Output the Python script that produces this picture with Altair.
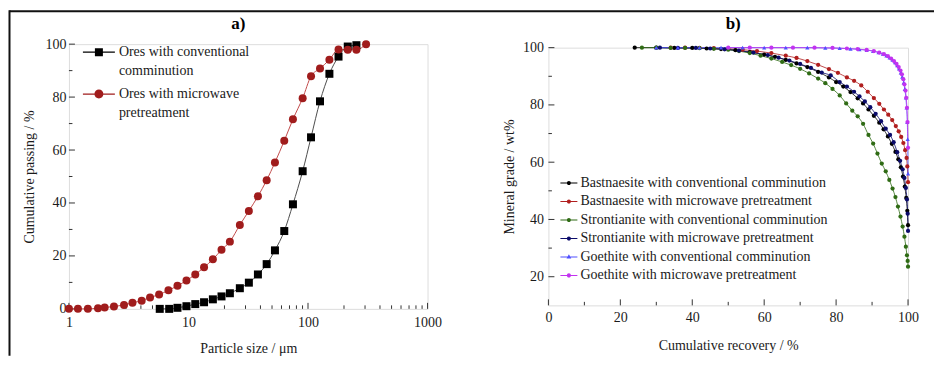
import altair as alt
import pandas as pd

FONT = "Liberation Serif"
FRAME = "#333333"
TXT = "#1a1a1a"

# ---------------- panel a) data ----------------
a_series = ["Ores with conventional|comminution", "Ores with microwave|pretreatment"]
a_point_colors = ["#000000", "#a01c1c"]
a_line_colors = ["#4d4d4d", "#c24b4b"]

size_conv = [5.75, 6.9, 8.09, 9.62, 11.4, 13.5, 16.0, 18.9, 22.2, 26.9, 32.0, 38.1,
             45.1, 52.9, 63.3, 74.8, 90.2, 106, 126, 151, 180, 215, 254]
pass_conv = [0, 0, 0.4, 1.0, 1.8, 2.5, 3.6, 4.7, 5.9, 7.8, 9.9, 13.0,
             16.9, 22.1, 29.4, 39.5, 52.0, 64.8, 78.4, 88.8, 95.3, 99.1, 99.6]
size_mw = [1, 1.19, 1.44, 1.75, 1.99, 2.38, 2.89, 3.40, 4.06, 4.77, 5.68, 6.80,
           8.09, 9.62, 11.4, 13.5, 16.0, 18.9, 22.2, 26.9, 32.0, 38.1, 45.1, 52.9,
           63.3, 74.8, 90.2, 106, 126, 151, 180, 215, 254, 306]
pass_mw = [0, 0, 0, 0.25, 0.5, 0.9, 1.5, 2.3, 3.1, 4.3, 5.4, 7.0,
           8.7, 10.7, 13.0, 15.7, 18.7, 22.3, 25.4, 31.7, 37.0, 42.5, 48.6, 55.3,
           63.5, 71.6, 79.6, 87.9, 90.8, 94.1, 98.0, 97.9, 97.9, 100]

a_x_major = [1, 10, 100, 1000]
a_x_minor = [2, 3, 4, 5, 6, 7, 8, 9, 20, 30, 40, 50, 60, 70, 80, 90,
             200, 300, 400, 500, 600, 700, 800, 900]
a_y_major = [0, 20, 40, 60, 80, 100]
a_y_minor = [10, 30, 50, 70, 90]

# ---------------- panel b) data ----------------
b_series = [
    "Bastnaesite with conventional comminution",
    "Bastnaesite with microwave pretreatment",
    "Strontianite with conventional comminution",
    "Strontianite with microwave pretreatment",
    "Goethite with conventional comminution",
    "Goethite with microwave pretreatment",
]
b_colors = ["#000000", "#b01e1e", "#2f6b14", "#0b0b6a", "#5050ff", "#c233f0"]

bast_conv_x = [24, 30, 35, 40, 44, 48, 52, 56, 60, 63, 66, 69, 72, 75, 78, 80, 82, 84, 86,
               87.5, 89, 90.5, 92, 93.2, 94.4, 95.5, 96.5, 97.3, 98, 98.6, 99.1, 99.5, 99.8, 100]
bast_conv_y = [100, 100, 99.9, 99.9, 99.7, 99.5, 99.1, 98.4, 97.6, 96.8, 95.7, 94.5, 93.2, 91.5,
               89.6, 88.0, 86.4, 84.5, 82.3, 80.5, 78.4, 76.2, 73.8, 71.5, 69.0, 66.4, 63.6,
               61.0, 58.2, 55.0, 51.5, 47.5, 43, 38]
bast_mw_x = [34, 38, 42, 46, 50, 54, 58, 62, 66, 69, 72, 75, 78, 80.5, 83, 85, 87, 88.8, 90.5,
             92, 93.3, 94.5, 95.6, 96.6, 97.4, 98.1, 98.7, 99.2, 99.6, 99.8, 100]
bast_mw_y = [100, 100, 99.9, 99.8, 99.6, 99.3, 98.8, 98.1, 97.2, 96.4, 95.3, 94.0, 92.5, 91.2,
             89.6, 88.4, 86.8, 84.6, 82.4, 80.4, 78.4, 76.6, 74.7, 72.6, 70.8, 68.8, 66.7,
             64.2, 61.5, 58.5, 53]
stro_conv_x = [26, 30, 34, 38, 42, 46, 50, 53, 56, 59, 62, 65, 67.5, 70, 72.5, 75, 77, 79, 81,
               82.8, 84.5, 86, 87.5, 89, 90.3, 91.5, 92.7, 93.8, 94.8, 95.7, 96.5, 97.2, 97.9,
               98.5, 99, 99.4, 99.7, 99.9, 100]
stro_conv_y = [100, 100, 99.9, 99.9, 99.8, 99.6, 99.3, 98.8, 98.1, 97.2, 96.2, 95.0, 93.9, 92.6,
               91.0, 89.2, 87.6, 85.6, 83.3, 80.5, 78.0, 76.0, 73.4, 69.5, 66.5, 63.0, 59.5,
               56.8, 53.8, 50.8, 47.8, 44.5, 41.0, 37.5, 34.0, 30.5, 27.5, 25.5, 23.5]
stro_mw_x = [31, 36, 41, 45, 49, 53, 57, 61, 64, 67, 70, 73, 76, 78.5, 81, 83, 85, 86.5, 88,
             89.5, 91, 92.5, 93.8, 95, 96, 97, 97.8, 98.5, 99, 99.4, 99.7, 99.9, 100]
stro_mw_y = [100, 99.9, 99.9, 99.7, 99.4, 99.0, 98.3, 97.4, 96.5, 95.5, 94.3, 92.9, 91.3, 90.3,
             88.0, 86.4, 84.6, 83.0, 81.2, 79.2, 76.9, 74.3, 71.7, 69.5, 67.0, 63.5, 60.5,
             57.5, 54.5, 51, 47, 42, 36]
goe_conv_x = [30, 36, 42, 48, 54, 60, 66, 72, 77, 81, 84, 86.5, 88.5, 90.3, 91.8, 93, 94, 94.9,
              95.7, 96.4, 97, 97.5, 98, 98.4, 98.8, 99.1, 99.4, 99.6, 99.8, 99.9, 100]
goe_conv_y = [100, 100, 100, 100, 100, 100, 100, 100, 99.9, 99.8, 99.6, 99.4, 99.1, 98.8, 98.3,
              97.8, 97.2, 96.5, 95.7, 94.8, 93.8, 92.7, 91.3, 89.8, 87.8, 85.5, 82.5, 79, 74,
              68, 56]
goe_mw_x = [50, 56, 62, 68, 74, 79, 83, 86, 88.5, 90.5, 92, 93.3, 94.4, 95.3, 96.1, 96.8, 97.4,
            97.9, 98.3, 98.7, 99, 99.3, 99.5, 99.7, 99.85, 100]
goe_mw_y = [100, 100, 100, 100, 100, 99.9, 99.7, 99.5, 99.2, 98.8, 98.3, 97.7, 97.0, 96.2, 95.3,
            94.3, 93.2, 92.0, 90.7, 89.0, 87.2, 85.0, 82.5, 79, 74, 65]

b_x_major = [0, 20, 40, 60, 80, 100]
b_x_minor = [10, 30, 50, 70, 90]
b_y_major = [20, 40, 60, 80, 100]
b_y_minor = [30, 50, 70, 90]

panel_labels = ["a)", "b)"]

# ---------------- tables ----------------
df_a = pd.concat([
    pd.DataFrame({"size": size_conv, "passing": pass_conv, "series": a_series[0]}),
    pd.DataFrame({"size": size_mw, "passing": pass_mw, "series": a_series[1]}),
], ignore_index=True)

b_xs = [bast_conv_x, bast_mw_x, stro_conv_x, stro_mw_x, goe_conv_x, goe_mw_x]
b_ys = [bast_conv_y, bast_mw_y, stro_conv_y, stro_mw_y, goe_conv_y, goe_mw_y]
df_b = pd.concat([
    pd.DataFrame({"recovery": xs, "grade": ys, "series": s})
    for s, xs, ys in zip(b_series, b_xs, b_ys)
], ignore_index=True)

one_row = pd.DataFrame({"k": [0]})

# ---------------- shared styling ----------------
def axis(title, values, fmt, label_pad, title_pad):
    return alt.Axis(title=title, values=values, format=fmt, domain=False, ticks=False,
                    grid=False, labelPadding=label_pad, titlePadding=title_pad,
                    labelFontSize=14, titleFontSize=14, labelFont=FONT, titleFont=FONT,
                    labelColor=TXT, titleColor=TXT, titleFontWeight="normal",
                    labelFlush=False, labelOverlap=False)


def tick_layers(xfield, xscale, xaxis, xmaj, xmin, yfield, yscale, yaxis, ymaj, ymin, H):
    layers = []
    for vals, ln in ((xmaj, 6), (xmin, 3.5)):
        layers.append(alt.Chart(pd.DataFrame({xfield: vals})).mark_rule(
            color=FRAME, strokeWidth=1).encode(
            x=alt.X(f"{xfield}:Q", scale=xscale, axis=xaxis),
            y=alt.value(H), y2=alt.value(H - ln)))
    for vals, ln in ((ymaj, 6), (ymin, 3.5)):
        layers.append(alt.Chart(pd.DataFrame({yfield: vals})).mark_rule(
            color=FRAME, strokeWidth=1).encode(
            y=alt.Y(f"{yfield}:Q", scale=yscale, axis=yaxis),
            x=alt.value(0), x2=alt.value(ln)))
    return layers


def panel_title(label, xpix, ypix):
    return alt.Chart(one_row).mark_text(
        text=label, font=FONT, fontSize=17, fontWeight="bold", color="#000",
        align="center", baseline="middle").encode(x=alt.value(xpix), y=alt.value(ypix))

# ---------------- panel a) ----------------
WA, HA = 359, 265
xs_a = alt.Scale(type="log", domain=[1, 1000], nice=False)
ys_a = alt.Scale(domain=[0, 100], nice=False)
xax_a = axis("Particle size / μm", a_x_major, "d", 7, 12)
yax_a = axis("Cumulative passing / %", a_y_major, "d", 3, 8)
Xa = alt.X("size:Q", scale=xs_a, axis=xax_a)
Ya = alt.Y("passing:Q", scale=ys_a, axis=yax_a)

a_leg_paths = [
    "M-1,-0.035H1V0.035H-1Z M-0.25,-0.25H0.25V0.25H-0.25Z",
    "M-1,-0.035H1V0.035H-1Z M0.28,0A0.28,0.28 0 1,1 -0.28,0A0.28,0.28 0 1,1 0.28,0Z",
]

leg_a_def = alt.Legend(title=None, orient="none", legendX=14, legendY=-8, padding=0,
                       labelFont=FONT, labelFontSize=14, labelColor=TXT, labelLimit=400,
                       labelOffset=4, rowPadding=-3, symbolSize=1024, symbolOpacity=1,
                       symbolStrokeWidth=0, labelExpr="split(datum.label, '|')")

line_a = alt.Chart(df_a).mark_line(interpolate="monotone", strokeWidth=1).encode(
    x=Xa, y=Ya,
    color=alt.Color("series:N", scale=alt.Scale(domain=a_series, range=a_line_colors), legend=None))
pts_a = alt.Chart(df_a).mark_point(filled=True, size=64, opacity=1).encode(
    x=Xa, y=Ya,
    color=alt.Color("series:N", scale=alt.Scale(domain=a_series, range=a_point_colors), legend=None),
    shape=alt.Shape("series:N", scale=alt.Scale(domain=a_series, range=["square", "circle"]), legend=None))
leg_a = alt.Chart(df_a).mark_point(filled=True, size=1024, opacity=0).encode(
    x=Xa, y=Ya,
    color=alt.Color("series:N", scale=alt.Scale(domain=a_series, range=a_point_colors), legend=leg_a_def),
    shape=alt.Shape("series:N", scale=alt.Scale(domain=a_series, range=a_leg_paths), legend=leg_a_def))

# figure border (decoration of the original figure: top and left edge)
border_top = alt.Chart(one_row).mark_rule(color="#111111", strokeWidth=2).encode(
    x=alt.value(-59.5), x2=alt.value(866), y=alt.value(-33))
border_left = alt.Chart(one_row).mark_rule(color="#111111", strokeWidth=2).encode(
    x=alt.value(-59.5), y=alt.value(-34), y2=alt.value(312))

panel_a = alt.layer(
    *tick_layers("size", xs_a, xax_a, a_x_major, a_x_minor, "passing", ys_a, yax_a, a_y_major, a_y_minor, HA),
    line_a, pts_a, leg_a, border_top, border_left,
    panel_title(panel_labels[0], WA / 2 - 10, -20.5)
).resolve_scale(color="independent", shape="independent").properties(width=WA, height=HA)

# ---------------- panel b) ----------------
WB, HB = 360, 258
xs_b = alt.Scale(domain=[0, 100], nice=False)
ys_b = alt.Scale(domain=[10, 100], nice=False)
xax_b = axis("Cumulative recovery / %", b_x_major, "d", 5, 14)
yax_b = axis("Mineral grade / wt%", b_y_major, "d", 5, 6)
Xb = alt.X("recovery:Q", scale=xs_b, axis=xax_b)
Yb = alt.Y("grade:Q", scale=ys_b, axis=yax_b)

dot = "M-1,-0.06H1V0.06H-1Z M0.24,0A0.24,0.24 0 1,1 -0.24,0A0.24,0.24 0 1,1 0.24,0Z"
tri = "M-1,-0.06H1V0.06H-1Z M0,-0.3L0.28,0.2L-0.28,0.2Z"
b_leg_paths = [dot, dot, dot, dot, tri, dot]
b_shapes = ["circle", "circle", "circle", "circle", "triangle-up", "circle"]

leg_b_def = alt.Legend(title=None, orient="none", legendX=12, legendY=127, padding=0,
                       labelFont=FONT, labelFontSize=14, labelColor=TXT, labelLimit=400,
                       labelOffset=3, rowPadding=2.5, symbolSize=289, symbolOpacity=1,
                       symbolStrokeWidth=0)

line_b = alt.Chart(df_b).mark_line(interpolate="monotone", strokeWidth=0.8).encode(
    x=Xb, y=Yb,
    color=alt.Color("series:N", scale=alt.Scale(domain=b_series, range=b_colors), legend=None))
pts_b = alt.Chart(df_b).mark_point(filled=True, size=18, opacity=1).encode(
    x=Xb, y=Yb,
    color=alt.Color("series:N", scale=alt.Scale(domain=b_series, range=b_colors), legend=None),
    shape=alt.Shape("series:N", scale=alt.Scale(domain=b_series, range=b_shapes), legend=None))
leg_b = alt.Chart(df_b).mark_point(filled=True, size=289, opacity=0).encode(
    x=Xb, y=Yb,
    color=alt.Color("series:N", scale=alt.Scale(domain=b_series, range=b_colors), legend=leg_b_def),
    shape=alt.Shape("series:N", scale=alt.Scale(domain=b_series, range=b_leg_paths), legend=leg_b_def))

panel_b = alt.layer(
    *tick_layers("recovery", xs_b, xax_b, b_x_major, b_x_minor, "grade", ys_b, yax_b, b_y_major, b_y_minor, HB),
    line_b, pts_b, leg_b,
    panel_title(panel_labels[1], WB / 2 + 5, -24)
).resolve_scale(color="independent", shape="independent").properties(width=WB, height=HB)

chart = alt.hconcat(panel_a, panel_b, spacing=121, center=True, bounds="flush").properties(
    padding={"left": 0, "top": 0, "right": 0, "bottom": 0}
).configure_view(stroke=FRAME, strokeWidth=1.3).configure(
    font=FONT, style={"guide-label": {"lineHeight": 19}})

chart.save("out.html", embed_options={"renderer": "svg", "actions": False})
